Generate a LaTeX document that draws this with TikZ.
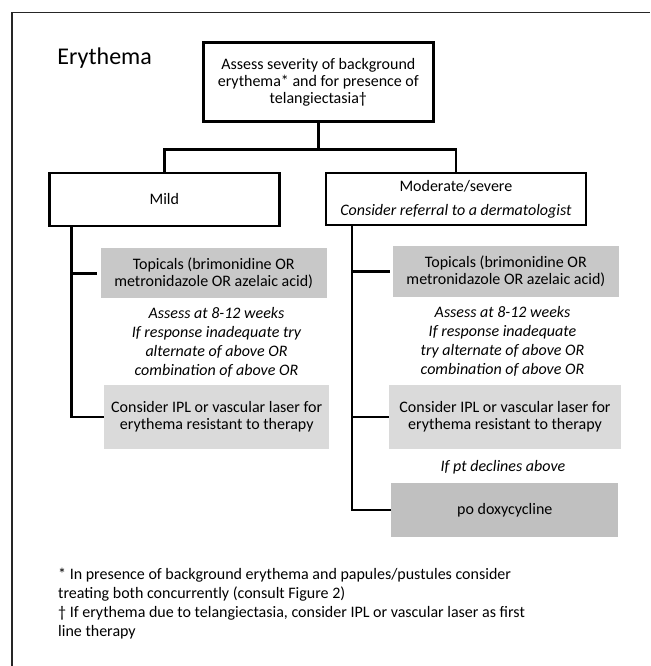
\documentclass[tikz,border=0pt]{standalone}
\usepackage{fontspec}
\setmainfont{Carlito}
\definecolor{gTop}{RGB}{200,200,200}
\definecolor{gIpl}{RGB}{218,218,218}
\definecolor{gDoxy}{RGB}{192,192,192}
\begin{document}
\begin{tikzpicture}[x=1pt,y=-1pt,
  box/.style={draw=black, line width=2.4pt, fill=white, align=center, inner sep=0pt,
    font=\fontsize{16}{17.3}\selectfont},
  gbox/.style={fill=#1, draw=none, align=center, inner sep=0pt,
    font=\fontsize{16}{16.7}\selectfont},
  note/.style={align=center, inner sep=0pt, font=\fontsize{16}{19.2}\selectfont\itshape},
  conn/.style={draw=black, line width=2.4pt, line join=miter},
  frame/.style={draw=black!85, line width=1.4pt}]
\useasboundingbox (0,0) rectangle (650,666);
% outer frame (only top and left edges visible)
\coordinate (fa) at (12,666);
\coordinate (fb) at (12,12.7);
\coordinate (fc) at (650,12.7);
\draw[frame] (fa) -- (fb) -- (fc);

\node[inner sep=0pt, font=\fontsize{24}{27}\selectfont] (title) at (104.7,58.3) {Erythema};

\node[box, minimum width=230pt, minimum height=79pt] (top) at (318.3,82.2)
  {Assess severity of background\\erythema* and for presence of\\telangiectasia†};
\node[box, minimum width=230pt, minimum height=53pt] (mild) at (164.3,199.2) {Mild};
\node[box, minimum width=259.7pt, minimum height=52.3pt, font=\fontsize{16}{24}\selectfont] (mod) at (455.9,198.9)
  {Moderate/severe\\\textit{Consider referral to a dermatologist}};

\node[gbox=gTop, minimum width=226pt, minimum height=50pt] (topL) at (213.7,273.3)
  {Topicals (brimonidine OR\\metronidazole OR azelaic acid)};
\node[gbox=gTop, minimum width=226.3pt, minimum height=50.7pt] (topR) at (505.9,271.4)
  {Topicals (brimonidine OR\\metronidazole OR azelaic acid)};
\node[gbox=gIpl, minimum width=225.3pt, minimum height=64pt] (iplL) at (216.7,417)
  {Consider IPL or vascular laser for\\erythema resistant to therapy};
\node[gbox=gIpl, minimum width=232pt, minimum height=64pt] (iplR) at (505,417)
  {Consider IPL or vascular laser for\\erythema resistant to therapy};
\node[gbox=gDoxy, minimum width=227pt, minimum height=53.4pt] (doxy) at (504.8,510) {po doxycycline};

\node[note] (aL) at (216.5,342.2)
  {Assess at 8-12 weeks\\If response inadequate try\\alternate of above OR\\combination of above OR};
\node[note] (aR) at (502.5,341.5)
  {Assess at 8-12 weeks\\If response inadequate\\try alternate of above OR\\combination of above OR};
\node[note] (dec) at (503,467.3) {If pt declines above};

\node[anchor=west, align=left, inner sep=0pt, font=\fontsize{16}{18.9}\selectfont] (fn) at (58,603.4)
  {* In presence of background erythema and papules/pustules consider\\treating both concurrently (consult Figure 2)\\† If erythema due to telangiectasia, consider IPL or vascular laser as first\\line therapy};

% connectors
\draw[conn] (top.south) -- ++(0,26.6) coordinate (split);
\draw[conn] (mild.north) |- (split) -| (mod.north);
\draw[conn] ([xshift=23.4pt]mild.south west) coordinate (vL) |- (iplL.west);
\draw[conn] (vL |- topL.west) -- ([xshift=-3.4pt]topL.west);
\draw[conn] ([xshift=27.3pt]mod.south west) coordinate (vR) |- (doxy.west);
\draw[conn] (vR |- topR.west) -- ([xshift=-2.7pt]topR.west);
\draw[conn] (vR |- iplR.west) -- (iplR.west);
\end{tikzpicture}
\end{document}
